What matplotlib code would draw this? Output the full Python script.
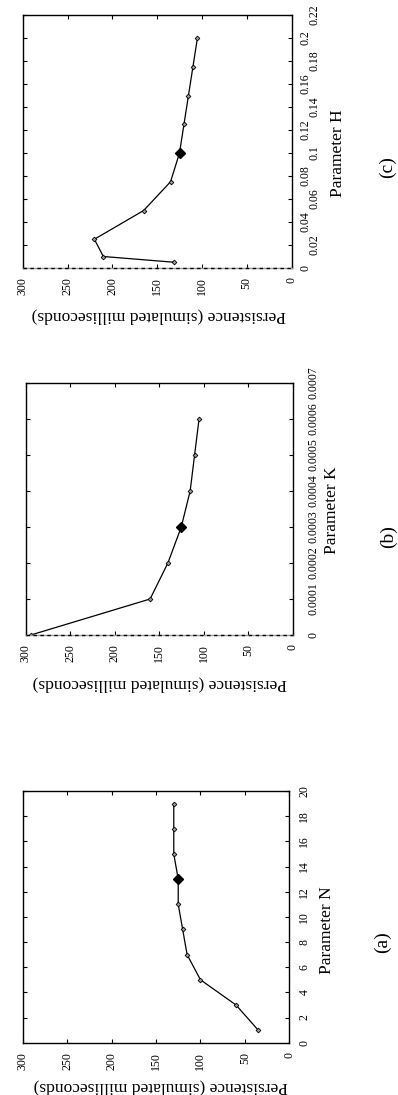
import matplotlib
matplotlib.use('Agg')
import matplotlib.pyplot as plt

plt.rcParams['font.family'] = ['Liberation Serif', 'DejaVu Serif']

# ---- data ----
persistence_ticks = [0, 50, 100, 150, 200, 250, 300]

N_values = [1, 3, 5, 7, 9, 11, 13, 15, 17, 19]
N_persistence = [35, 60, 100, 115, 120, 125, 125, 130, 130, 130]
N_default = 13
N_ticks = [0, 2, 4, 6, 8, 10, 12, 14, 16, 18, 20]
N_ticklabels = ['0', '2', '4', '6', '8', '10', '12', '14', '16', '18', '20']

K_values = [0.0, 0.0001, 0.0002, 0.0003, 0.0004, 0.0005, 0.0006]
K_persistence = [294, 160, 140, 125, 115, 110, 105]
K_default = 0.0003
K_ticks = [0, 0.0001, 0.0002, 0.0003, 0.0004, 0.0005, 0.0006, 0.0007]
K_ticklabels = ['0', '0.0001', '0.0002', '0.0003', '0.0004', '0.0005', '0.0006', '0.0007']

H_values = [0.005, 0.01, 0.025, 0.05, 0.075, 0.1, 0.125, 0.15, 0.175, 0.2]
H_persistence = [131, 210, 220, 165, 135, 125, 120, 115, 110, 105]
H_default = 0.1
H_ticks = [0, 0.02, 0.04, 0.06, 0.08, 0.1, 0.12, 0.14, 0.16, 0.18, 0.2, 0.22]
H_ticklabels = ['0', '0.02', '0.04', '0.06', '0.08', '0.1', '0.12', '0.14', '0.16', '0.18', '0.2', '0.22']

W, H = 398, 1095
fig = plt.figure(figsize=(W / 100, H / 100), dpi=100)


def rect_px(x0, x1, y0, y1):
    return [x0 / W, 1 - y1 / H, (x1 - x0) / W, (y1 - y0) / H]


def panel(box, xs, ys, default, ticks, ticklabels, xmax, name, caption, cap_xy,
          plabel_xy, ylabel_xy, dashed_zero, pad, stagger_pad=None):
    ax = fig.add_axes(rect_px(*box))
    ax.plot(ys, xs, color='k', lw=0.9, marker='D', ms=2.4, mfc='0.6', mec='k', mew=0.6)
    i = xs.index(default)
    ax.plot([ys[i]], [xs[i]], marker='D', ms=5.5, color='k', ls='none')
    ax.set_xlim(300, 0)
    ax.set_ylim(0, xmax)
    ax.set_xticks(persistence_ticks)
    ax.set_xticklabels([str(v) for v in persistence_ticks], rotation=90)
    ax.yaxis.tick_right()
    ax.set_yticks(ticks)
    ax.set_yticklabels(ticklabels, rotation=90, va='center')
    ax.tick_params(direction='in', length=3, width=0.8, top=True, bottom=True,
                   left=True, right=True, labelleft=False, labelright=True,
                   labelsize=8.5)
    ax.tick_params(axis='x', pad=6.5)
    ax.tick_params(axis='y', pad=pad)
    if stagger_pad is not None:
        for j, t in enumerate(ax.yaxis.get_major_ticks()):
            if j % 2 == 1:
                t.set_pad(stagger_pad)
    for s in ax.spines.values():
        s.set_linewidth(1.0)
    if dashed_zero:
        ax.spines['bottom'].set_color('0.6')
        ax.axhline(0, color='k', lw=1.0, ls=(0, (2.5, 2.5)), clip_on=False, zorder=5)
    ax.set_xlabel('Persistence (simulated milliseconds)', rotation=180,
                  fontsize=12.5, ha='center', va='center')
    ax.xaxis.set_label_coords(*ylabel_xy)
    ax.yaxis.set_label_position('right')
    ax.set_ylabel('Parameter ' + name, rotation=90, fontsize=12.5,
                  ha='center', va='center')
    ax.yaxis.set_label_coords(*plabel_xy)
    fig.text(cap_xy[0] / W, 1 - cap_xy[1] / H, caption, rotation=90,
             fontsize=14, ha='center', va='center')
    return ax


# (c) top
panel((22.7, 291.5, 15, 268), H_values, H_persistence, H_default, H_ticks,
      H_ticklabels, 0.22, 'H', '(c)', (387, 167), (1.173, 0.4545), (0.507, -0.19),
      True, 6.0, 12.5)
# (b) middle
panel((25.5, 292.5, 383, 635), K_values, K_persistence, K_default, K_ticks,
      K_ticklabels, 0.0007, 'K', '(b)', (388, 537), (1.148, 0.496), (0.504, -0.192),
      True, 11.0)
# (a) bottom
panel((22.7, 289.3, 791, 1042.7), N_values, N_persistence, N_default, N_ticks,
      N_ticklabels, 20, 'N', '(a)', (382, 942), (1.141, 0.448), (0.519, -0.176),
      False, 6.5)

fig.savefig('out.png', dpi=100)
